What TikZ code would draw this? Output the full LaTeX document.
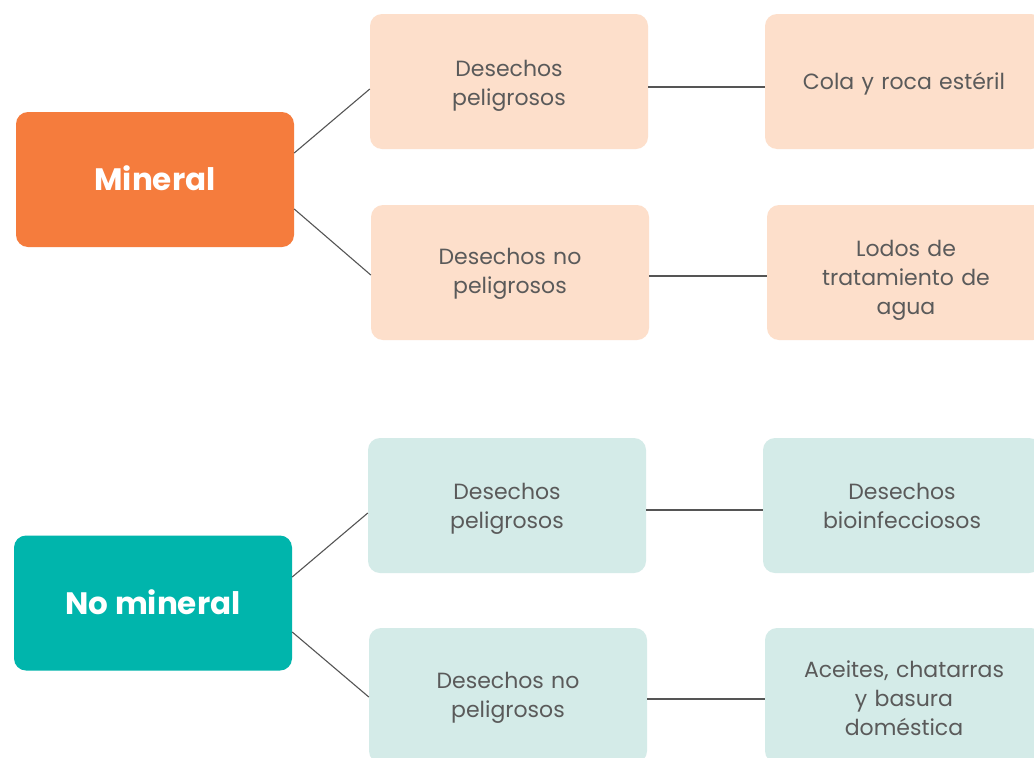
\documentclass[tikz,border=0pt]{standalone}
\usepackage{fontspec}
\setmainfont{Poppins}
\definecolor{orng}{HTML}{F57C3D}
\definecolor{tealc}{HTML}{00B5AC}
\definecolor{peach}{HTML}{FDDFCB}
\definecolor{mint}{HTML}{D4EBE8}
\definecolor{txt}{HTML}{5A5A5A}
\definecolor{lnc}{HTML}{555555}
\begin{document}
\begin{tikzpicture}[x=1pt,y=-1pt,
  box/.style={rounded corners=12pt, minimum width=278pt, minimum height=135pt,
    inner sep=0pt},
  pbox/.style={box, fill=peach},
  mbox/.style={box, fill=mint},
  lt/.style={align=center, text=txt, inner sep=0pt, text width=270pt,
    font=\fontsize{22}{29}\selectfont, yshift=#1},
  lt/.default=-4pt,
  head/.style={box, text=white, align=center, font=\fontsize{31}{36}\selectfont\bfseries},
  conn/.style={draw=lnc, line width=1.1pt}
]
\useasboundingbox (0,0) rectangle (1034,758);
\clip (0,0) rectangle (1034,758);
\fill[white] (0,0) rectangle (1034,758);

\node[head, fill=orng] (m) at (155,179.5) {\raisebox{3pt}{Mineral}};
\node[head, fill=tealc] (n) at (153,603) {\raisebox{2pt}{No mineral}};

\node[pbox, label={[lt]center:Desechos\\peligrosos}] (d1) at (509,81.5) {};
\node[pbox, label={[lt=-1pt]center:Desechos no\\peligrosos}] (d2) at (510,272.5) {};
\node[pbox, label={[lt=-2pt]center:Cola y roca estéril}] (r1) at (904,81.5) {};
\node[pbox, label={[lt=-8pt]center:Lodos de\\tratamiento de\\agua}] (r2) at (906,272.5) {};

\node[mbox, label={[lt=-3pt]center:Desechos\\peligrosos}] (e1) at (507,505.5) {};
\node[mbox, label={[lt=-2pt]center:Desechos no\\peligrosos}] (e2) at (508,695.5) {};
\node[mbox, label={[lt=0pt]center:Desechos\\bioinfecciosos}] (s1) at (902,505.5) {};
\node[mbox, label={[lt=-3pt]center:Aceites, chatarras\\y basura\\doméstica}] (s2) at (904,695.5) {};

\draw[conn] ([yshift=26.5pt]m.east) -- ([yshift=-7.5pt]d1.west);
\draw[conn] ([yshift=-29.5pt]m.east) -- ([yshift=-2.5pt]d2.west);
\draw[conn] ([yshift=-5.5pt]d1.east) -- ([yshift=-5.5pt]d1.east -| r1.west);
\draw[conn] ([yshift=-3.5pt]d2.east) -- ([yshift=-3.5pt]d2.east -| r2.west);

\draw[conn] ([yshift=26pt]n.east) -- ([yshift=-7.5pt]e1.west);
\draw[conn] ([yshift=-29pt]n.east) -- ([yshift=-1.5pt]e2.west);
\draw[conn] ([yshift=-4.5pt]e1.east) -- ([yshift=-4.5pt]e1.east -| s1.west);
\draw[conn] ([yshift=-3.5pt]e2.east) -- ([yshift=-3.5pt]e2.east -| s2.west);
\end{tikzpicture}
\end{document}
